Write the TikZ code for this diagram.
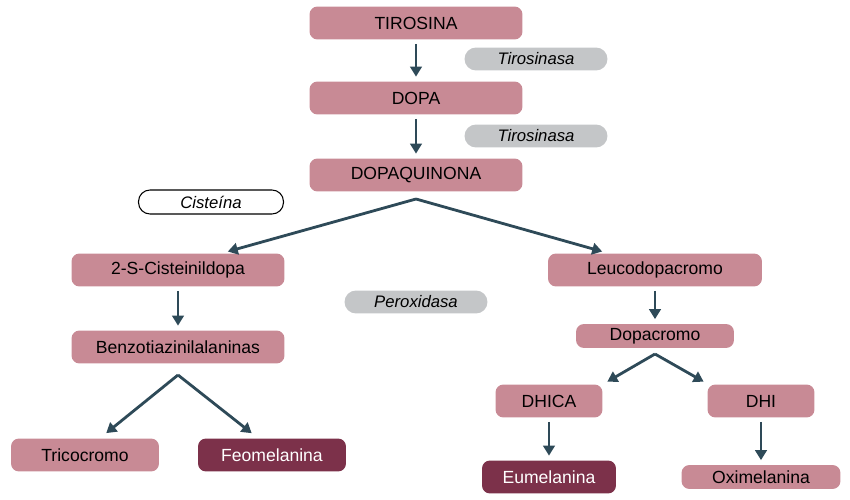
\documentclass[tikz,border=0pt]{standalone}
\usepackage{fontspec}
\setmainfont{Liberation Sans}
\usepackage{tikz}
\usetikzlibrary{arrows.meta}

\definecolor{rosa}{RGB}{200,138,149}
\definecolor{vino}{RGB}{124,49,74}
\definecolor{gris}{RGB}{196,198,200}
\definecolor{flechacol}{RGB}{46,74,88}

\tikzset{
	paso/.style={fill=rosa, rounded corners=0.16cm, minimum height=0.66cm, inner sep=0pt, text=black, font=\fontsize{10}{12}\selectfont},
	final/.style={paso, fill=vino, text=white},
	enzima/.style={fill=gris, rounded corners=0.23cm, minimum width=2.86cm, minimum height=0.46cm, inner sep=0pt, font=\fontsize{9.5}{11}\selectfont\itshape},
	flecha/.style={draw=flechacol, line width=1.6pt, -{Triangle[length=0.2cm, width=0.23cm]}, shorten >=0.09cm, shorten <=0.08cm}
}

\begin{document}
\begin{tikzpicture}[x=0.02cm, y=-0.02cm]
	
	\useasboundingbox (0,0) rectangle (850,500);
	
	\node[paso, minimum width=4.26cm] (tir) at (416,23) {TIROSINA};
	
	\node[enzima] (e1) at (536,59) {Tirosinasa};
	
	\node[paso, minimum width=4.26cm] (dopa) at (416,98) {DOPA};
	
	\node[enzima] (e2) at (536,136) {Tirosinasa};
	
	\node[paso, minimum width=4.26cm] (dq) at (416,175) {DOPAQUINONA};
	
	\node[enzima, fill=white, draw=black, line width=0.6pt, minimum width=2.9cm, minimum height=0.48cm] (cis) at (211,202) {Cisteína};
	
	\node[paso, minimum width=4.26cm] (cys) at (178,270) {2-S-Cisteinildopa};
	
	\node[enzima] (per) at (416,302) {Peroxidasa};
	
	\node[paso, minimum width=4.26cm] (bz) at (178,347) {Benzotiazinilalaninas};
	
	\node[paso, minimum width=2.96cm] (tri) at (85,455) {Tricocromo};
	
	\node[final, minimum width=2.96cm] (feo) at (272,455) {Feomelanina};
	
	\node[paso, minimum width=4.28cm] (leu) at (655,270) {Leucodopacromo};
	
	\node[paso, minimum width=3.16cm, minimum height=0.48cm] (dc) at (655,336) {Dopacromo};
	
	\node[paso, minimum width=2.14cm] (dhica) at (549,401) {DHICA};
	
	\node[paso, minimum width=2.14cm] (dhi) at (761,401) {DHI};
	
	\node[final, minimum width=2.68cm] (eu) at (549,477) {Eumelanina};
	
	\node[paso, minimum width=3.18cm, minimum height=0.48cm] (oxi) at (761,477) {Oximelanina};
	
	\coordinate (dqs) at (416,199);
	\coordinate (bzs) at (178,375);
	\coordinate (dcs) at (655,354);
	
	\draw[flecha] (tir) -- (dopa);
	\draw[flecha] (dopa) -- (dq);
	\draw[flecha, shorten <=0pt, shorten >=0.12cm] (dqs) -- ([xshift=0.88cm]cys.north);
	\draw[flecha, shorten <=0pt, shorten >=0.12cm] (dqs) -- ([xshift=-0.94cm]leu.north);
	\draw[flecha] (cys) -- (bz);
	\draw[flecha, shorten <=0pt, shorten >=0.16cm] (bzs) -- ([xshift=0.3cm]tri.north);
	\draw[flecha, shorten <=0pt, shorten >=0.16cm] (bzs) -- ([xshift=-0.28cm]feo.north);
	\draw[flecha] (leu) -- (dc);
	\draw[flecha, shorten <=0pt, shorten >=0.1cm] (dcs) -- ([xshift=1.08cm]dhica.north);
	\draw[flecha, shorten <=0pt, shorten >=0.1cm] (dcs) -- ([xshift=-1.06cm]dhi.north);
	\draw[flecha] (dhica) -- (eu);
	\draw[flecha] (dhi) -- (oxi);
	
\end{tikzpicture}
\end{document}
